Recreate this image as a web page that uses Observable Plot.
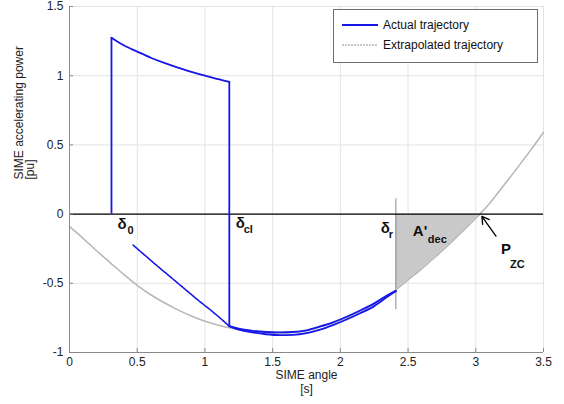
<!DOCTYPE html>
<html>
<head>
<meta charset="utf-8">
<script src="https://cdn.jsdelivr.net/npm/d3@7"></script>
<script src="https://cdn.jsdelivr.net/npm/@observablehq/plot@0.6"></script>
<style>
  body { margin: 0; background: #fff; font-family: "Liberation Sans", Arial, sans-serif; }
  #wrap { position: relative; width: 564px; height: 404px; }
  #legend { position: absolute; left: 333px; top: 9px; width: 205px; height: 54px; box-sizing: border-box;
            border: 1px solid #6e6e6e; background: #fff; font-size: 12px; color: #111; }
  .row { position: absolute; left: 8px; height: 14px; display: flex; align-items: center; }
  .row svg { margin-right: 5px; }
</style>
</head>
<body>
<div id="wrap">
  <div id="chart"></div>
  <div id="legend"></div>
</div>
<script>
// ---- data ----
const xTicks = [0, 0.5, 1, 1.5, 2, 2.5, 3, 3.5];
const yTicks = [-1, -0.5, 0, 0.5, 1, 1.5];
const xDomain = [0, 3.5];
const yDomain = [-1, 1.5];

// actual trajectory, fault-on part (after the jump at δ0)
const faultX = [0.31, 0.4, 0.5, 0.6, 0.7, 0.8, 0.9, 1.0, 1.1, 1.18];
const faultY = [1.275, 1.22, 1.174, 1.13, 1.092, 1.058, 1.028, 1.0, 0.975, 0.955];

// actual trajectory, post-fault part (after the jump at δcl)
const postX = [1.18, 1.25, 1.35, 1.45, 1.55, 1.65, 1.75, 1.85, 1.95, 2.05, 2.15, 2.25, 2.35, 2.41];
const postY = [-0.81, -0.835, -0.855, -0.868, -0.874, -0.872, -0.86, -0.835, -0.80, -0.76, -0.715, -0.665, -0.595, -0.555];

// dotted portion of the actual trajectory
const dottedX = [0.47, 0.55, 0.65, 0.75, 0.85, 0.95, 1.05, 1.12, 1.18];
const dottedY = [-0.224, -0.292, -0.376, -0.458, -0.54, -0.622, -0.7, -0.758, -0.81];

// return branch of the actual trajectory
const returnX = [1.18, 1.25, 1.35, 1.45, 1.55, 1.65, 1.75, 1.85, 1.95, 2.05, 2.15, 2.25, 2.35, 2.41];
const returnY = [-0.81, -0.828, -0.843, -0.852, -0.855, -0.852, -0.84, -0.812, -0.78, -0.74, -0.695, -0.645, -0.585, -0.555];

// extrapolated trajectory
const extraX = [0, 0.1, 0.2, 0.3, 0.4, 0.5, 0.6, 0.7, 0.8, 0.9, 1.0, 1.1, 1.2, 1.3, 1.4, 1.5, 1.6, 1.7, 1.8, 1.9,
                2.0, 2.1, 2.2, 2.3, 2.41, 2.5, 2.6, 2.7, 2.8, 2.9, 3.0, 3.03, 3.1, 3.2, 3.3, 3.4, 3.5];
const extraY = [-0.09, -0.175, -0.265, -0.35, -0.435, -0.515, -0.583, -0.641, -0.692, -0.737, -0.775, -0.803, -0.825,
                -0.84, -0.852, -0.858, -0.858, -0.85, -0.83, -0.80, -0.765, -0.725, -0.675, -0.62, -0.547,
                -0.475, -0.395, -0.31, -0.22, -0.127, -0.03, 0, 0.075, 0.2, 0.325, 0.455, 0.59];

const deltaR = 2.41;      // return angle
const deltaZC = 3.03;     // zero crossing
const deltaRLine = [0.11, -0.69];  // extent of the δr marker line

// annotation labels (data coordinates)
const labelText = ["δ", "δ", "δ", "A'", "P"];
const labelX = [0.355, 1.227, 2.299, 2.535, 3.186];
const labelY = [-0.109, -0.104, -0.138, -0.159, -0.288];
const subText = ["0", "cl", "r", "dec", "ZC"];
const subX = [0.429, 1.286, 2.358, 2.646, 3.252];
const subY = [-0.145, -0.136, -0.174, -0.207, -0.386];

const arrowFrom = [3.149, -0.159];
const arrowTo = [3.045, -0.016];

const legendLabels = ["Actual trajectory", "Extrapolated trajectory"];

// ---- build tables ----
const BLUE = "#1616e8";
const GRAY = "#b8b8b8";
const toRows = (xs, ys) => xs.map((x, i) => ({x, y: ys[i]}));
const fault = toRows(faultX, faultY);
const post = toRows(postX, postY);
const dotted = toRows(dottedX, dottedY);
const ret = toRows(returnX, returnY);
const extra = toRows(extraX, extraY);
const area = extra.filter(d => d.x >= deltaR && d.x <= deltaZC);
const labels = toRows(labelX, labelY).map((d, i) => ({...d, t: labelText[i]}));
const subs = toRows(subX, subY).map((d, i) => ({...d, t: subText[i]}));
// vertical jumps of the actual trajectory
const jumps = [
  {x: faultX[0], y1: 0, y2: faultY[0]},
  {x: faultX[faultX.length - 1], y1: faultY[faultY.length - 1], y2: postY[0]}
];

const W = 564, H = 404, mL = 69, mR = 21, mT = 6, mB = 52;
const innerW = W - mL - mR, innerH = H - mT - mB;

const chart = Plot.plot({
  width: W, height: H,
  marginLeft: mL, marginRight: mR, marginTop: mT, marginBottom: mB,
  style: {fontFamily: "Liberation Sans, Arial, sans-serif", fontSize: "12px", background: "#fff", color: "#222"},
  x: {domain: xDomain, ticks: xTicks},
  y: {domain: yDomain, ticks: yTicks},
  marks: [
    Plot.gridX(xTicks, {stroke: "#e4e4e4", strokeOpacity: 1}),
    Plot.gridY(yTicks, {stroke: "#e4e4e4", strokeOpacity: 1}),
    Plot.areaY(area, {x: "x", y1: 0, y2: "y", fill: "#c9c9c9", curve: "monotone-x"}),
    Plot.ruleX([deltaR], {y1: deltaRLine[0], y2: deltaRLine[1], stroke: "#8a8a8a", strokeWidth: 1}),
    Plot.line(extra, {x: "x", y: "y", stroke: GRAY, strokeWidth: 1.6, curve: "monotone-x"}),
    Plot.ruleY([0], {stroke: "#000", strokeWidth: 1.4}),
    Plot.line(dotted, {x: "x", y: "y", stroke: BLUE, strokeWidth: 1.6, strokeDasharray: "2,1", curve: "monotone-x"}),
    Plot.line(ret, {x: "x", y: "y", stroke: BLUE, strokeWidth: 1.8, curve: "monotone-x"}),
    Plot.line(post, {x: "x", y: "y", stroke: BLUE, strokeWidth: 1.8, curve: "monotone-x"}),
    Plot.line(fault, {x: "x", y: "y", stroke: BLUE, strokeWidth: 1.8, curve: "monotone-x"}),
    Plot.ruleX(jumps, {x: "x", y1: "y1", y2: "y2", stroke: BLUE, strokeWidth: 1.8}),
    Plot.arrow([0], {x1: () => arrowFrom[0], y1: () => arrowFrom[1], x2: () => arrowTo[0], y2: () => arrowTo[1],
                     stroke: "#000", strokeWidth: 1.3, headLength: 10}),
    Plot.text(labels, {x: "x", y: "y", text: "t", textAnchor: "start", lineAnchor: "bottom",
                       fontWeight: "bold", fontSize: 15, fill: "#111"}),
    Plot.text(subs, {x: "x", y: "y", text: "t", textAnchor: "start", lineAnchor: "bottom",
                     fontWeight: "bold", fontSize: 11, fill: "#111"}),
    // axes
    Plot.ruleX([xDomain[0]], {stroke: "#8a8a8a"}),
    Plot.ruleY([yDomain[0]], {stroke: "#8a8a8a"}),
    Plot.tickX(xTicks, {x: d => d, insetTop: innerH - 4, stroke: "#8a8a8a"}),
    Plot.tickY(yTicks, {y: d => d, insetRight: innerW - 4, stroke: "#8a8a8a"}),
    Plot.axisX(xTicks, {tickSize: 0, tickPadding: 5, tickFormat: d => String(d), label: null, fill: "#222"}),
    Plot.axisY(yTicks, {tickSize: 0, tickPadding: 6, tickFormat: d => String(d), label: null, fill: "#222"}),
    Plot.text(["SIME angle"], {frameAnchor: "bottom", dy: 26, fill: "#222"}),
    Plot.text(["[s]"], {frameAnchor: "bottom", dy: 40, fill: "#222"}),
    Plot.text(["SIME accelerating power"], {frameAnchor: "left", dx: -50, rotate: -90, fill: "#222"}),
    Plot.text(["[pu]"], {frameAnchor: "left", dx: -39, rotate: -90, fill: "#222"})
  ]
});
document.getElementById("chart").appendChild(chart);

// legend
const leg = document.getElementById("legend");
const styles = [
  {stroke: BLUE, width: 2, dash: null},
  {stroke: GRAY, width: 1.5, dash: "2,1"}
];
legendLabels.forEach((lab, i) => {
  const row = document.createElement("div");
  row.className = "row";
  row.style.top = (8 + i * 20) + "px";
  const s = styles[i];
  row.innerHTML = `<svg width="36" height="6"><line x1="0" x2="36" y1="3" y2="3" stroke="${s.stroke}" stroke-width="${s.width}" ${s.dash ? `stroke-dasharray="${s.dash}"` : ""}/></svg><span>${lab}</span>`;
  leg.appendChild(row);
});
</script>
</body>
</html>
